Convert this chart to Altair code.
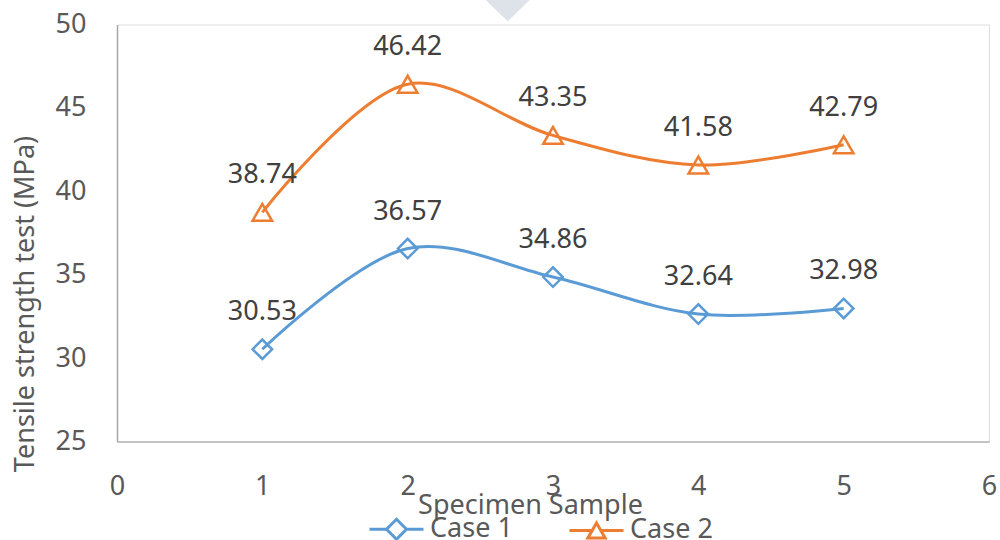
import altair as alt
import pandas as pd

# Tensile strength (MPa) per specimen sample
samples = [1, 2, 3, 4, 5]
case1 = [30.53, 36.57, 34.86, 32.64, 32.98]
case2 = [38.74, 46.42, 43.35, 41.58, 42.79]
series_names = ["Case 1", "Case 2"]
series_colors = ["#5B9BD5", "#ED7D31"]
series_shapes = ["diamond", "triangle-up"]
x_ticks = [0, 1, 2, 3, 4, 5, 6]
y_ticks = [25, 30, 35, 40, 45, 50]

df = pd.DataFrame({
    "sample": samples * 2,
    "value": case1 + case2,
    "series": [series_names[0]] * len(samples) + [series_names[1]] * len(samples),
})

FONT = "Noto Sans"
W, H = 872, 417

x_enc = alt.X(
    "sample:Q",
    scale=alt.Scale(domain=[0, 6], nice=False, zero=False),
    axis=alt.Axis(
        values=x_ticks, title="Specimen Sample", format="d",
        ticks=False, grid=False, domainColor="#b4b4b4", domainWidth=1.5,
        labelFont=FONT, labelFontSize=27, labelColor="#595959",
        labelPadding=45, labelBaseline="middle", labelFlush=False,
        titleFont=FONT, titleFontSize=27, titleColor="#595959", titleFontWeight="normal",
        titleX=413, titleY=72, titleAlign="center", titleBaseline="alphabetic",
    ),
)
y_enc = alt.Y(
    "value:Q",
    scale=alt.Scale(domain=[25, 50], nice=False, zero=False),
    axis=alt.Axis(
        values=y_ticks, title="Tensile strength test (MPa)",
        ticks=False, grid=False, domainColor="#a6a6a6", domainWidth=1.5,
        labelFont=FONT, labelFontSize=27, labelColor="#595959",
        labelPadding=31, labelBaseline="middle", labelFlush=False,
        titleFont=FONT, titleFontSize=27, titleColor="#595959", titleFontWeight="normal",
        titleAngle=270, titleX=-84, titleY=279, titleAlign="center", titleBaseline="alphabetic",
    ),
)
color_scale = alt.Scale(domain=series_names, range=series_colors)

# legend symbols: a short line with the series marker in the middle
diamond_sym = "M-1,0H-0.37M0.37,0H1M0,-0.37L0.37,0L0,0.37L-0.37,0Z"
triangle_sym = "M-1,0H-0.16M0.16,0H1M0,-0.28L0.32,0.28L-0.32,0.28Z"
sym_expr = f"datum.value === '{series_names[0]}' ? '{diamond_sym}' : '{triangle_sym}'"

legend = alt.Legend(
    orient="none", legendX=251, legendY=476, direction="horizontal",
    padding=0, symbolSize=2916, symbolStrokeWidth=3, symbolOffset=0,
    symbolType={"expr": sym_expr}, symbolFillColor="transparent",
    labelFont=FONT, labelFontSize=27, labelColor="#595959", labelOffset=5,
    columnPadding=50,
)
color_enc = alt.Color("series:N", scale=color_scale, title=None, legend=legend)

base = alt.Chart(df)

lines = base.mark_line(interpolate="catmull-rom", strokeWidth=3).encode(
    x=x_enc, y=y_enc, color=color_enc,
)

marker_layers = [
    base.transform_filter(alt.datum.series == name)
    .mark_point(shape=shp, filled=False, strokeWidth=2.5, size=380, opacity=1)
    .encode(x=alt.X("sample:Q"), y=alt.Y("value:Q"), color=color_enc)
    for name, shp in zip(series_names, series_shapes)
]

labels = base.mark_text(
    font=FONT, fontSize=27, color="#404040", dy=-29, baseline="alphabetic", align="center"
).encode(
    x=alt.X("sample:Q"), y=alt.Y("value:Q"),
    text=alt.Text("value:Q", format=".2f"),
)

# pale header mark above the frame
mark_df = pd.DataFrame({"k": [0]})
header = alt.Chart(mark_df).mark_point(
    shape="M-1,-0.48L1,-0.48L0,0.48Z", filled=True, color="#dde3e8", opacity=1, size=2025
).encode(x=alt.value(390.7), y=alt.value(-14.1))

chart = alt.layer(header, lines, *marker_layers, labels).properties(
    width=W, height=H,
    padding={"left": 117, "top": 24.5, "right": 11, "bottom": 98.5},
    autosize=alt.AutoSizeParams(type="none"),
).configure_view(stroke="black", strokeWidth=1.5).configure(background="white")

chart.save("out.html", embed_options={"renderer": "svg", "actions": False})
